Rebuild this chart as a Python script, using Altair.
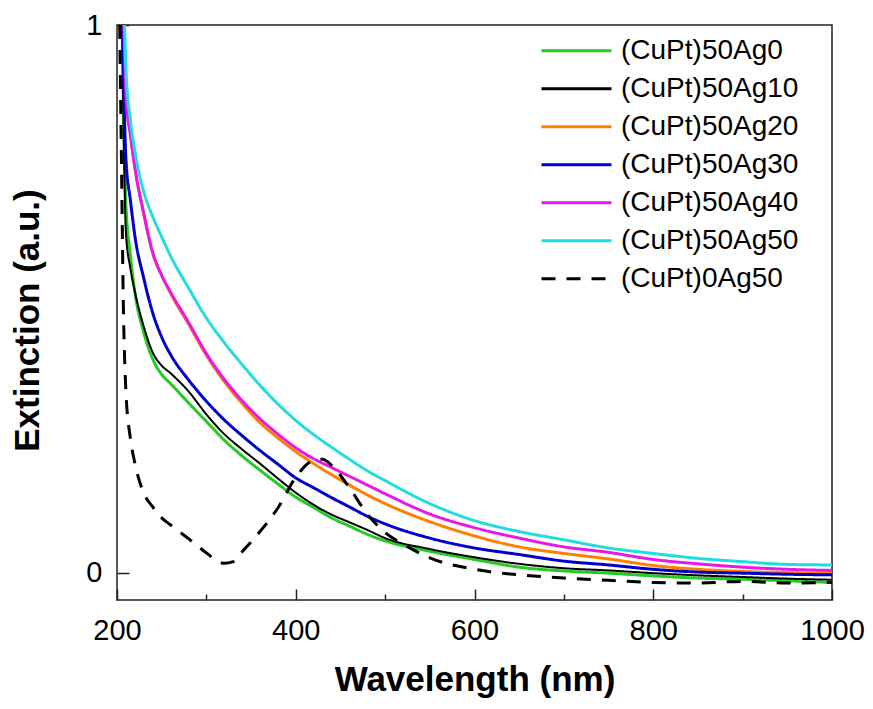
import altair as alt
import pandas as pd

# ---- data ----
wavelength = [205, 207, 210, 215, 220, 230, 240, 250, 260, 280, 300, 320, 340, 360, 380,
              400, 420, 440, 460, 480, 500, 550, 600, 650, 700, 750, 800, 850, 900, 950, 1000]

ag0 = [1.15, 0.88, 0.67, 0.58, 0.512, 0.438, 0.39, 0.362, 0.345, 0.31, 0.276, 0.242, 0.213, 0.187, 0.162,
       0.138, 0.119, 0.1, 0.085, 0.07, 0.058, 0.039, 0.024, 0.01, 0.003, -0.001, -0.006, -0.01, -0.012, -0.015, -0.018]
ag10 = [1.1, 0.85, 0.62, 0.555, 0.513, 0.449, 0.402, 0.378, 0.364, 0.331, 0.289, 0.253, 0.225, 0.199, 0.172,
        0.146, 0.124, 0.106, 0.092, 0.078, 0.063, 0.043, 0.028, 0.016, 0.008, 0.004, -0.001, -0.005, -0.008, -0.011, -0.013]
ag20 = [1.2, 1.05, 0.87, 0.80, 0.74, 0.655, 0.584, 0.543, 0.51, 0.454, 0.397, 0.349, 0.309, 0.274, 0.246,
        0.221, 0.199, 0.179, 0.16, 0.142, 0.126, 0.093, 0.067, 0.047, 0.035, 0.025, 0.013, 0.006, 0.002, 0.0, -0.001]
ag30 = [1.2, 0.95, 0.755, 0.68, 0.615, 0.537, 0.474, 0.43, 0.398, 0.352, 0.313, 0.279, 0.25, 0.223, 0.198,
        0.173, 0.155, 0.137, 0.12, 0.103, 0.089, 0.063, 0.045, 0.033, 0.021, 0.014, 0.006, 0.001, -0.001, -0.003, -0.004]
ag40 = [1.2, 1.05, 0.87, 0.80, 0.74, 0.655, 0.584, 0.543, 0.512, 0.457, 0.40, 0.353, 0.314, 0.281, 0.253,
        0.228, 0.208, 0.192, 0.176, 0.16, 0.144, 0.107, 0.082, 0.063, 0.047, 0.037, 0.024, 0.016, 0.01, 0.006, 0.004]
ag50 = [1.2, 1.08, 0.92, 0.826, 0.77, 0.695, 0.65, 0.613, 0.578, 0.52, 0.465, 0.42, 0.38, 0.342, 0.308,
        0.278, 0.252, 0.229, 0.207, 0.186, 0.168, 0.126, 0.095, 0.075, 0.06, 0.045, 0.035, 0.026, 0.02, 0.015, 0.014]

wavelength_ag = [203, 205, 207, 210, 215, 220, 230, 240, 250, 260, 280, 300, 310, 320, 330, 340, 360, 380,
                 400, 420, 430, 440, 460, 480, 500, 520, 550, 600, 650, 700, 750, 800, 850, 900, 950, 1000]
cupt0_ag50 = [1.0, 0.75, 0.5, 0.33, 0.245, 0.2, 0.145, 0.12, 0.1, 0.087, 0.062, 0.036, 0.024, 0.017, 0.02, 0.038,
              0.075, 0.118, 0.174, 0.205, 0.207, 0.196, 0.155, 0.107, 0.073, 0.052, 0.027, 0.006, -0.004, -0.01,
              -0.014, -0.018, -0.019, -0.016, -0.019, -0.018]

series_names = ["(CuPt)50Ag0", "(CuPt)50Ag10", "(CuPt)50Ag20", "(CuPt)50Ag30",
                "(CuPt)50Ag40", "(CuPt)50Ag50", "(CuPt)0Ag50"]
series_colors = ["#22cc22", "#000000", "#ff8000", "#0000cc", "#e619e6", "#22dddd", "#000000"]

x_major_ticks = [200, 400, 600, 800, 1000]
x_minor_ticks = [300, 500, 700, 900]
y_ticks = [0, 1]

rows = []
for name, vals in zip(series_names[:6], [ag0, ag10, ag20, ag30, ag40, ag50]):
    for w, v in zip(wavelength, vals):
        rows.append({"series": name, "w": w, "v": v})
for w, v in zip(wavelength_ag, cupt0_ag50):
    rows.append({"series": series_names[6], "w": w, "v": v})
df = pd.DataFrame(rows)
minor_df = pd.DataFrame({"w": x_minor_ticks})

FONT = "Liberation Sans"
xscale = alt.Scale(domain=[200, 1000], nice=False, zero=False)
yscale = alt.Scale(domain=[-0.05, 1.0], nice=False, zero=False)

legend = alt.Legend(
    title=None, orient="none", legendX=423, legendY=7, padding=0,
    symbolType="stroke", symbolSize=4900, symbolStrokeWidth=3, symbolOffset=0,
    labelFont=FONT, labelFontSize=28, labelColor="black", labelOffset=8,
    labelLimit=400, clipHeight=37.6, rowPadding=0,
)

lines = alt.Chart(df).mark_line(clip=True, interpolate="monotone").encode(
    x=alt.X("w:Q", scale=xscale, axis=alt.Axis(
        values=x_major_ticks, orient="bottom", format="d",
        tickSize=11, offset=-11, domain=False, grid=False,
        tickColor="#222", tickWidth=1.5,
        labelFont=FONT, labelFontSize=29, labelColor="black", labelPadding=16, labelFlush=False,
        title="Wavelength (nm)", titleFont=FONT, titleFontSize=35, titleFontWeight="bold",
        titleColor="black", titleBaseline="alphabetic", titleY=101)),
    y=alt.Y("v:Q", scale=yscale, axis=alt.Axis(
        values=y_ticks, format="d",
        tickSize=12, offset=-12, domain=False, grid=False,
        tickColor="#222", tickWidth=1.5,
        labelFont=FONT, labelFontSize=29, labelColor="black", labelPadding=15,
        title="Extinction (a.u.)", titleFont=FONT, titleFontSize=35, titleFontWeight="bold",
        titleColor="black", titleBaseline="alphabetic", titleX=-91, titleY=295)),
    color=alt.Color("series:N", scale=alt.Scale(domain=series_names, range=series_colors), legend=legend),
    strokeDash=alt.StrokeDash("series:N", scale=alt.Scale(
        domain=series_names, range=[[1, 0]] * 6 + [[14, 11]]), legend=legend),
    strokeWidth=alt.condition(alt.datum.series == "(CuPt)50Ag10", alt.value(2), alt.value(3)),
    order="w:Q",
)

minor = alt.Chart(minor_df).mark_point(opacity=0).encode(
    x=alt.X("w:Q", scale=xscale, axis=alt.Axis(
        values=x_minor_ticks, orient="bottom", tickSize=6, offset=-6,
        domain=False, grid=False, labels=False, title=None,
        tickColor="#222", tickWidth=1.5)),
)

chart = alt.layer(lines, minor).resolve_axis(x="independent").properties(
    width=715, height=575,
    autosize=alt.AutoSizeParams(type="none"),
    padding={"left": 109, "top": 17, "right": 33, "bottom": 101},
    background="white",
).configure_view(stroke="#222", strokeWidth=1.5)

chart.save("out.html", embed_options={"renderer": "svg", "actions": False})
